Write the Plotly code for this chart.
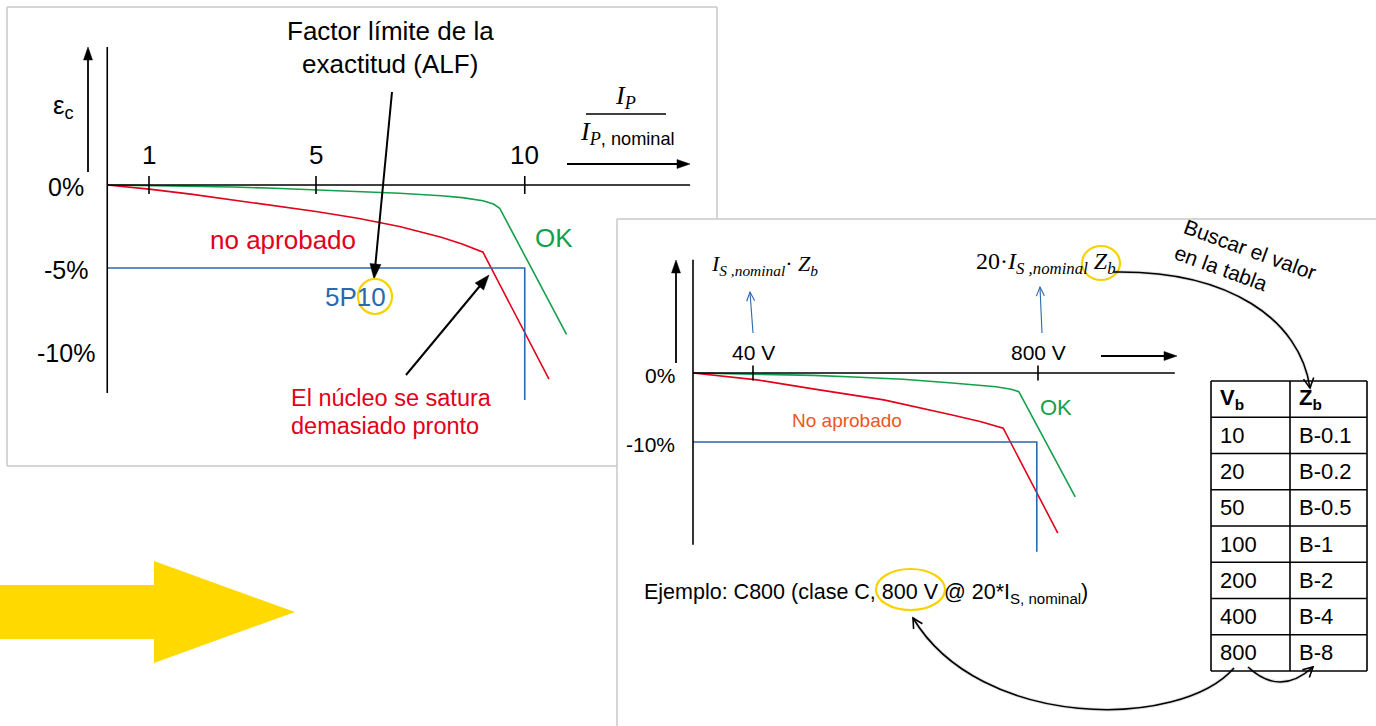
import math
import plotly.graph_objects as go

W, H = 1376, 726

# ---------------- DATA ----------------
# Left chart: composite error vs I_P / I_P,nominal  (class 5P10)
left_xticks = [1, 5, 10]
left_xticklabels = ["1", "5", "10"]
left_yticks = [0, -5, -10]
left_yticklabels = ["0%", "-5%", "-10%"]

ok_left_x = [0, 1, 2, 3, 4, 5, 6, 7, 8, 8.5, 9.0, 9.25, 9.4, 11.0]
ok_left_y = [0, -0.03, -0.07, -0.12, -0.2, -0.3, -0.38, -0.5, -0.65, -0.76, -0.95, -1.15, -1.4, -9.0]

fail_left_x = [0, 1, 2, 3, 4, 5, 6, 7, 8, 8.5, 9.0, 10.58]
fail_left_y = [0, -0.25, -0.55, -0.9, -1.25, -1.6, -2.0, -2.5, -3.15, -3.55, -4.05, -11.7]

limit_left_x = [0, 10, 10]
limit_left_y = [-5, -5, -12.95]

# Right chart: composite error vs secondary voltage (class C800)
right_xticks = [1, 5.75]
right_xticklabels = ["40 V", "800 V"]
right_yticks = [0, -10]
right_yticklabels = ["0%", "-10%"]

ok_right_x = [0, 1.07, 2.0, 2.68, 3.5, 4.32, 4.8, 5.05, 5.3, 5.43, 6.37]
ok_right_y = [0, -0.14, -0.35, -0.58, -0.9, -1.45, -1.75, -2.0, -2.35, -2.71, -17.97]

fail_right_x = [0, 1.07, 2.0, 3.18, 4.32, 4.8, 5.17, 6.08]
fail_right_y = [0, -1.0, -2.3, -3.9, -6.1, -7.05, -8.0, -23.2]

limit_right_x = [0, 5.73, 5.73]
limit_right_y = [-10, -10, -25.9]

# Burden table (IEEE C57.13)
table_vb = ["10", "20", "50", "100", "200", "400", "800"]
table_zb = ["B-0.1", "B-0.2", "B-0.5", "B-1", "B-2", "B-4", "B-8"]

# ---------------- STYLE / LAYOUT CONSTANTS ----------------
RED = "#E2001A"
GREEN = "#14A04A"
BLUE = "#2A68B0"
ORANGE = "#EE5522"
YELLOW = "#F7D200"
FRAME = "#C8C8C8"
SANS = "Arial, Liberation Sans, sans-serif"
SERIF = "Times New Roman, Liberation Serif, serif"

# panel frames in page pixels and axis scales (origin px, px per unit)
LP = dict(frame=(7, 7, 717, 466), ox=107.25, oy=185, sx=41.75, sy=16.6)
RP = dict(frame=(617, 219, 1376, 726), ox=693, oy=373, sx=60, sy=6.9)


def ranges(P):
    x0, y0, x1, y1 = P["frame"]
    xr = [(x0 - P["ox"]) / P["sx"], (x1 - P["ox"]) / P["sx"]]
    yr = [(P["oy"] - y1) / P["sy"], (P["oy"] - y0) / P["sy"]]
    dx = [x0 / W, x1 / W]
    dy = [1 - y1 / H, 1 - y0 / H]
    return xr, yr, dx, dy


lxr, lyr, ldx, ldy = ranges(LP)
rxr, ryr, rdx, rdy = ranges(RP)

fig = go.Figure()

# ---------------- TRACES ----------------
lw = 1.6
fig.add_trace(go.Scatter(x=ok_left_x, y=ok_left_y, mode="lines",
                         line=dict(color=GREEN, width=lw), xaxis="x", yaxis="y", hoverinfo="skip"))
fig.add_trace(go.Scatter(x=fail_left_x, y=fail_left_y, mode="lines",
                         line=dict(color=RED, width=lw), xaxis="x", yaxis="y", hoverinfo="skip"))
fig.add_trace(go.Scatter(x=limit_left_x, y=limit_left_y, mode="lines",
                         line=dict(color=BLUE, width=lw), xaxis="x", yaxis="y", hoverinfo="skip"))

fig.add_trace(go.Scatter(x=ok_right_x, y=ok_right_y, mode="lines",
                         line=dict(color=GREEN, width=lw), xaxis="x2", yaxis="y2", hoverinfo="skip"))
fig.add_trace(go.Scatter(x=fail_right_x, y=fail_right_y, mode="lines",
                         line=dict(color=RED, width=lw), xaxis="x2", yaxis="y2", hoverinfo="skip"))
fig.add_trace(go.Scatter(x=limit_right_x, y=limit_right_y, mode="lines",
                         line=dict(color=BLUE, width=lw), xaxis="x2", yaxis="y2", hoverinfo="skip"))

# empty trace so the page-canvas axes exist
fig.add_trace(go.Scatter(x=[], y=[], xaxis="x3", yaxis="y3", showlegend=False))

shapes = []
annos = []


def cline(x0, y0, x1, y1, color="black", width=1.5):
    shapes.append(dict(type="line", xref="x3", yref="y3", x0=x0, y0=y0, x1=x1, y1=y1,
                       line=dict(color=color, width=width)))


def dline(ax, x0, y0, x1, y1, color="black", width=1.6):
    xr = "x" if ax == 1 else "x2"
    yr = "y" if ax == 1 else "y2"
    shapes.append(dict(type="line", xref=xr, yref=yr, x0=x0, y0=y0, x1=x1, y1=y1,
                       line=dict(color=color, width=width)))


def arrow(tail, tip, color="black", width=1.8, hl=13, hw=4.5, filled=True):
    dx, dy = tip[0] - tail[0], tip[1] - tail[1]
    n = math.hypot(dx, dy)
    ux, uy = dx / n, dy / n
    bx, by = tip[0] - ux * hl, tip[1] - uy * hl
    px, py = -uy, ux
    a = (bx + px * hw, by + py * hw)
    b = (bx - px * hw, by - py * hw)
    if filled:
        cline(tail[0], tail[1], bx + ux * 2, by + uy * 2, color, width)
        shapes.append(dict(type="path", xref="x3", yref="y3",
                           path=f"M {tip[0]} {tip[1]} L {a[0]:.2f} {a[1]:.2f} L {b[0]:.2f} {b[1]:.2f} Z",
                           fillcolor=color, line=dict(color=color, width=0.5)))
    else:
        cline(tail[0], tail[1], tip[0], tip[1], color, width)
        shapes.append(dict(type="path", xref="x3", yref="y3",
                           path=f"M {a[0]:.2f} {a[1]:.2f} L {tip[0]} {tip[1]} L {b[0]:.2f} {b[1]:.2f}",
                           line=dict(color=color, width=width)))


def ctext(x, y, text, size=22, color="black", family=SANS, xanchor="center", **kw):
    annos.append(dict(x=x, y=y, xref="x3", yref="y3", text=text, showarrow=False,
                      font=dict(size=size, color=color, family=family),
                      xanchor=xanchor, yanchor="middle", **kw))


def vhead(tip, frm, length=11, ang=28):
    dx, dy = frm[0] - tip[0], frm[1] - tip[1]
    n = math.hypot(dx, dy)
    ux, uy = dx / n, dy / n
    pts = []
    for s in (1, -1):
        a = math.radians(ang * s)
        rx = ux * math.cos(a) - uy * math.sin(a)
        ry = ux * math.sin(a) + uy * math.cos(a)
        pts.append((tip[0] + rx * length, tip[1] + ry * length))
    return f"M {pts[0][0]:.1f} {pts[0][1]:.1f} L {tip[0]} {tip[1]} L {pts[1][0]:.1f} {pts[1][1]:.1f}"


def curve(path, tip, ctrl):
    shapes.append(dict(type="path", xref="x3", yref="y3", path=path,
                       line=dict(color="rgba(0,0,0,0.12)", width=3.5)))
    shapes.append(dict(type="path", xref="x3", yref="y3", path=path,
                       line=dict(color="black", width=1.6)))
    shapes.append(dict(type="path", xref="x3", yref="y3", path=vhead(tip, ctrl),
                       line=dict(color="black", width=1.6)))


# ---------------- PANEL FRAMES ----------------
cline(7, 7, 717, 7, FRAME, 1.5)
cline(7, 7, 7, 466, FRAME, 1.5)
cline(717, 7, 717, 219, FRAME, 1.5)
cline(7, 466, 617, 466, FRAME, 1.5)
cline(617, 219, 1376, 219, FRAME, 1.5)
cline(617, 219, 617, 726, FRAME, 1.5)

# ---------------- LEFT CHART AXES ----------------
dline(1, 0, -12.53, 0, 8.31)
dline(1, 0, 0, 13.96, 0)
for t, lab in zip(left_xticks, left_xticklabels):
    dline(1, t, -0.54, t, 0.54)
    annos.append(dict(x=t, y=0, xref="x", yref="y", text=lab, showarrow=False, yshift=30,
                      font=dict(size=26, family=SANS, color="black")))
for v, lab in zip(left_yticks, left_yticklabels):
    annos.append(dict(x=0, y=v, xref="x", yref="y", text=lab, showarrow=False,
                      xshift=-41, yshift=-2, font=dict(size=25, family=SANS, color="black")))

arrow((88, 172), (88, 47), width=1.8)
arrow((567, 164), (690, 164), width=1.8)
ctext(63, 106, "ε<sub>c</sub>", size=26)

# fraction I_P / I_P,nominal
ctext(625, 97, "<i>I<sub>P</sub></i>", size=26, family=SERIF)
cline(586, 114, 666, 114, "black", 1.5)
ctext(627, 133, "<i>I</i><sub><i>P</i><span style='font-family:Arial, Liberation Sans'>, nominal</span></sub>",
      size=26, family=SERIF)

ctext(390, 31, "Factor límite de la", size=26)
ctext(390, 64, "exactitud (ALF)", size=26)
arrow((392, 92), (374, 279), width=2, hl=15, hw=5.5)

ctext(283, 240, "no aprobado", size=26, color=RED)
ctext(554, 238, "OK", size=26, color=GREEN)
ctext(355, 297, "5P10", size=26, color=BLUE)
shapes.append(dict(type="circle", xref="x3", yref="y3", x0=358, x1=392, y0=279, y1=314,
                   line=dict(color=YELLOW, width=2.2)))
arrow((406, 375), (489, 275), width=2, hl=15, hw=5.5)
ctext(289, 398, "El núcleo se satura", size=23.5, color=RED, xanchor="left")
ctext(289, 426, "demasiado pronto", size=23.5, color=RED, xanchor="left")

# ---------------- RIGHT CHART AXES ----------------
dline(2, 0, -24.9, 0, 16.4)
dline(2, 0, 0, 8.03, 0)
for t, lab in zip(right_xticks, right_xticklabels):
    dline(2, t, -1.09, t, 1.09)
    annos.append(dict(x=t, y=0, xref="x2", yref="y2", text=lab, showarrow=False, yshift=21,
                      font=dict(size=21, family=SANS, color="black")))
for v, lab in zip(right_yticks, right_yticklabels):
    annos.append(dict(x=0, y=v, xref="x2", yref="y2", text=lab, showarrow=False,
                      xanchor="right", xshift=-16, yshift=-2,
                      font=dict(size=21, family=SANS, color="black")))

arrow((676, 363), (676, 260), width=1.8)
arrow((1101, 356), (1177, 356), width=1.8)

ctext(764, 265, "<i>I</i><sub><i>S ,nominal</i></sub>· <i>Z</i><sub><i>b</i></sub>", size=22, family=SERIF)
ctext(1046, 263, "20·<i>I</i><sub><i>S ,nominal</i></sub> <i>Z</i><sub><i>b</i></sub>", size=24, family=SERIF)
shapes.append(dict(type="circle", xref="x3", yref="y3", x0=1082, x1=1120, y0=246, y1=280,
                   line=dict(color=YELLOW, width=2.2)))
arrow((753, 333), (750, 292), color=BLUE, width=1.1, hl=9, hw=4, filled=False)
arrow((1042, 333), (1040, 287), color=BLUE, width=1.1, hl=9, hw=4, filled=False)

ctext(847, 420, "No aprobado", size=19, color=ORANGE)
ctext(1056, 407, "OK", size=22, color=GREEN)

ctext(642, 593, "Ejemplo: C800 (clase C, 800 V @ 20*I<sub>S, nominal</sub>)", size=21.5, xanchor="left")
shapes.append(dict(type="circle", xref="x3", yref="y3", x0=876, x1=945, y0=569, y1=610,
                   line=dict(color=YELLOW, width=2.2)))

ctext(1245, 262, "Buscar el valor<br>en la tabla", size=21, textangle=20, align="left")

# ---------------- TABLE ----------------
tx0, tx1, tdiv, ty0, rowh = 1211, 1367, 1290, 381, 36.25
nrows = len(table_vb) + 1
ty1 = ty0 + rowh * nrows
cline(tx0, ty0, tx1, ty0, "black", 1.6)
cline(tx0, ty1, tx1, ty1, "black", 1.6)
cline(tx0, ty0, tx0, ty1, "black", 1.6)
cline(tx1, ty0, tx1, ty1, "black", 1.6)
cline(tdiv, ty0, tdiv, ty1, "black", 1.6)
for i in range(1, nrows):
    y = ty0 + rowh * i
    cline(tx0, y, tx1, y, "black", 1.6)
ctext(1218, ty0 + rowh * 0.5, "<b>V<sub>b</sub></b>", size=22, xanchor="left")
ctext(1297, ty0 + rowh * 0.5, "<b>Z<sub>b</sub></b>", size=22, xanchor="left")
for i, (v, z) in enumerate(zip(table_vb, table_zb)):
    yc = ty0 + rowh * (i + 1.5)
    ctext(1218, yc, v, size=22, xanchor="left")
    ctext(1297, yc, z, size=22, xanchor="left")

# ---------------- CURVED ARROWS ----------------
curve("M 1113 272 C 1230 270 1300 320 1310 388", (1310, 388), (1300, 320))
curve("M 1234 668 C 1180 730 980 730 913 618", (913, 618), (980, 730))
curve("M 1248 667 Q 1280 697 1313 667", (1313, 667), (1280, 697))

# ---------------- BIG YELLOW ARROW ----------------
shapes.append(dict(type="path", xref="x3", yref="y3",
                   path="M 0 585 L 154 585 L 154 561 L 295 612 L 154 663 L 154 639 L 0 639 Z",
                   fillcolor="#FFD900", line=dict(width=0)))

axis_off = dict(visible=False, showgrid=False, zeroline=False, fixedrange=True)
fig.update_layout(
    width=W, height=H,
    margin=dict(l=0, r=0, t=0, b=0),
    paper_bgcolor="white", plot_bgcolor="rgba(0,0,0,0)",
    showlegend=False,
    xaxis=dict(domain=ldx, range=lxr, anchor="y", **axis_off),
    yaxis=dict(domain=ldy, range=lyr, anchor="x", **axis_off),
    xaxis2=dict(domain=rdx, range=rxr, anchor="y2", **axis_off),
    yaxis2=dict(domain=rdy, range=ryr, anchor="x2", **axis_off),
    xaxis3=dict(domain=[0, 1], range=[0, W], anchor="y3", **axis_off),
    yaxis3=dict(domain=[0, 1], range=[H, 0], anchor="x3", **axis_off),
    shapes=shapes,
    annotations=annos,
)

fig.write_html("out.html", config=dict(displayModeBar=False),
               post_script="document.body.style.margin='0px';document.body.style.overflow='hidden';")
